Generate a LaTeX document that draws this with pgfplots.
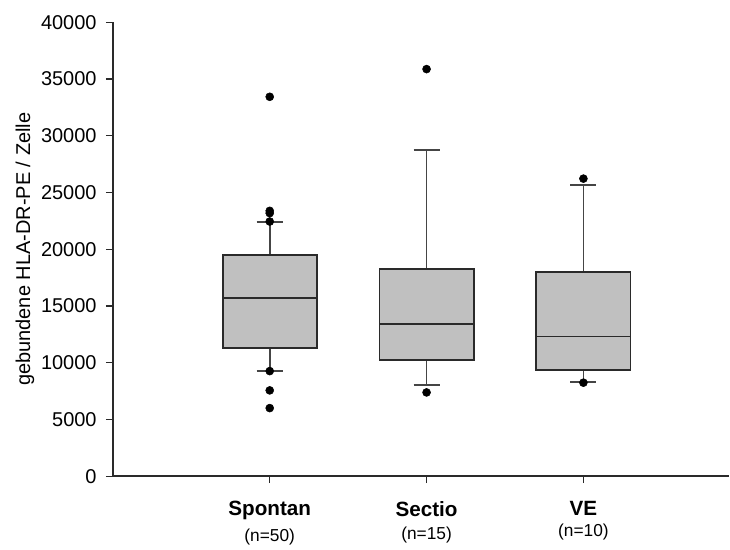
\documentclass[border=0pt]{standalone}
\usepackage{pgfplots}
\pgfplotsset{compat=1.18}
\usepackage{fontspec}
\setmainfont{Liberation Sans}
\definecolor{boxfill}{HTML}{C0C0C0}
\definecolor{edge}{HTML}{2A2A2A}
\definecolor{whisk}{HTML}{454545}
% #1 left, #2 centre, #3 right, #4 cap left, #5 cap right,
% #6 lower whisker, #7 lower quartile, #8 median, #9 upper quartile, then upper whisker
\newcommand\boxgroup[9]{\boxgroupB{#1}{#2}{#3}{#4}{#5}{#6}{#7}{#8}{#9}}
\newcommand\boxgroupB[9]{\def\bgA{#1}\def\bgB{#2}\def\bgC{#3}\def\bgD{#4}\def\bgE{#5}\def\bgF{#6}\def\bgG{#7}\def\bgH{#8}\def\bgI{#9}\boxgroupC}
\newcommand\boxgroupC[1]{%
  \addplot[whisk, line width=1.3pt] coordinates {(\bgB,\bgI) (\bgB,#1)};
  \addplot[whisk, line width=1.3pt] coordinates {(\bgD,#1) (\bgE,#1)};
  \addplot[whisk, line width=1.3pt] coordinates {(\bgB,\bgG) (\bgB,\bgF)};
  \addplot[whisk, line width=1.3pt] coordinates {(\bgD,\bgF) (\bgE,\bgF)};
  \addplot[draw=edge, line width=1.4pt, fill=boxfill] coordinates {(\bgA,\bgG) (\bgC,\bgG) (\bgC,\bgI) (\bgA,\bgI)} -- cycle;
  \addplot[edge, line width=1.3pt] coordinates {(\bgA,\bgH) (\bgC,\bgH)};
}
\begin{document}
\begin{tikzpicture}
\begin{axis}[
  name=ax,
  scale only axis,
  width=462.75pt, height=340.8pt,
  xmin=0, xmax=3.93, ymin=0, ymax=40000,
  axis x line=bottom, axis y line=left,
  axis line style={edge, line width=1.1pt, -},
  tick style={edge, line width=1pt},
  tick align=outside,
  major tick length=5.2pt,
  xtick={1,2,3},
  xticklabels={
    {{\fontsize{15.5}{18}\bfseries Spontan}\\[5.5pt]{\fontsize{13}{15}\selectfont(n=50)}},
    {{\fontsize{15.5}{18}\bfseries Sectio}\\[5.5pt]{\fontsize{13}{15}\selectfont(n=15)}},
    {{\fontsize{15.5}{18}\bfseries VE}\\[4pt]{\fontsize{13}{15}\selectfont(n=10)}}},
  xticklabel style={align=center, anchor=north, yshift=-10pt},
  ytick={0,5000,...,40000},
  scaled y ticks=false,
  yticklabel style={font=\fontsize{15}{18}\selectfont, xshift=-3.5pt},
  /pgf/number format/1000 sep={},
  /pgf/number format/assume math mode=true,
  ylabel={gebundene HLA-DR-PE / Zelle},
  ylabel style={font=\fontsize{15}{18}\selectfont, at={(axis description cs:0,0.5)}, anchor=center, yshift=66pt},
  clip=false,
]
% Spontan: lw, lq, median, uq, uw
\boxgroup{0.7}{1}{1.3}{0.917}{1.083}{9260}{11310}{15710}{19490}{22390}
% Sectio
\boxgroup{1.7}{2}{2.3}{1.917}{2.083}{8060}{10200}{13420}{18230}{28770}
% VE
\boxgroup{2.7}{3}{3.3}{2.917}{3.083}{8290}{9320}{12310}{18020}{25670}
% outliers
\addplot[only marks, mark=*, mark size=3pt, black] coordinates {
  (1,33430) (1,23380) (1,23180) (1,22440) (1,9260) (1,7560) (1,6000)
  (2,35870) (2,7380)
  (3,26220) (3,8240)
};
\end{axis}
\path ([xshift=-84.75pt, yshift=-49pt]ax.south west) rectangle ([yshift=16.7pt]ax.north east);
\end{tikzpicture}
\end{document}
